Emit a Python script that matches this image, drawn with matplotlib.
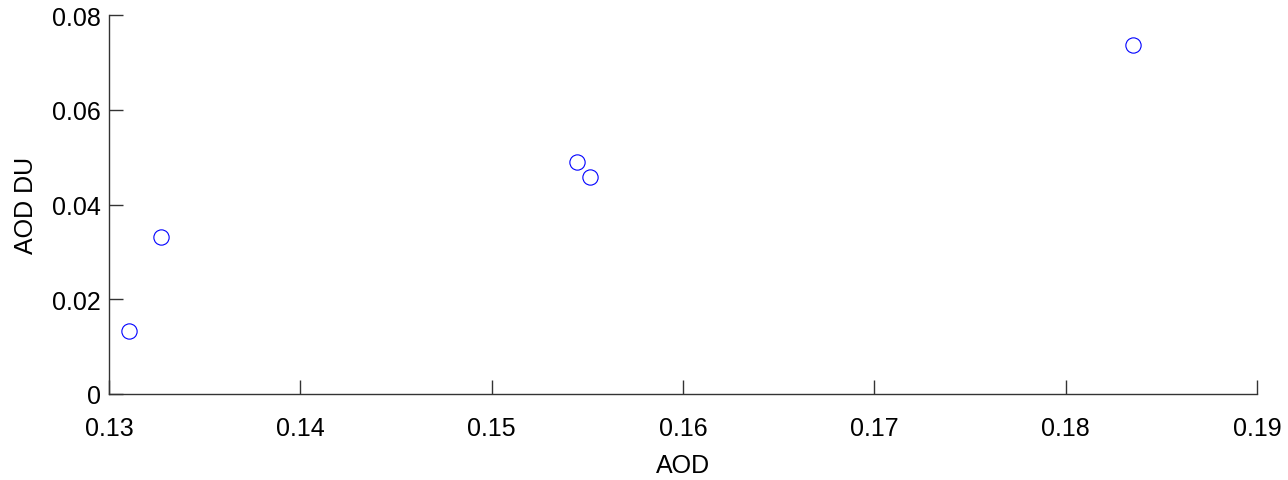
import matplotlib.pyplot as plt

plt.rcParams["font.family"] = ["Liberation Sans", "DejaVu Sans"]

aod = [0.13103, 0.13270, 0.15446, 0.15514, 0.18352]
aod_du = [0.01336, 0.03321, 0.04898, 0.04581, 0.07368]
x_ticks = [0.13, 0.14, 0.15, 0.16, 0.17, 0.18, 0.19]
y_ticks = [0, 0.02, 0.04, 0.06, 0.08]

fig = plt.figure(figsize=(12.88, 4.81), dpi=100)
ax = fig.add_axes([109 / 1288, 86 / 481, 1148 / 1288, 379 / 481])

ax.plot(aod, aod_du, "o", markersize=11, markerfacecolor="none",
        markeredgecolor="#0000ff", markeredgewidth=0.8, linestyle="none")

ax.set_xlim(0.13, 0.19)
ax.set_ylim(0, 0.08)
ax.set_xticks(x_ticks)
ax.set_xticklabels(["0.13", "0.14", "0.15", "0.16", "0.17", "0.18", "0.19"])
ax.set_yticks(y_ticks)
ax.set_yticklabels(["0", "0.02", "0.04", "0.06", "0.08"])

for s in ["top", "right"]:
    ax.spines[s].set_visible(False)
for s in ["left", "bottom"]:
    ax.spines[s].set_color("#333333")
    ax.spines[s].set_linewidth(1.0)
ax.tick_params(direction="in", length=10, width=1.0, color="#333333",
               labelsize=18)
ax.tick_params(axis="x", pad=16)
ax.tick_params(axis="y", pad=6)

ax.set_xlabel("AOD", fontsize=18, labelpad=9)
ax.set_ylabel("AOD DU", fontsize=18, labelpad=10)

fig.savefig("out.png", dpi=100)
